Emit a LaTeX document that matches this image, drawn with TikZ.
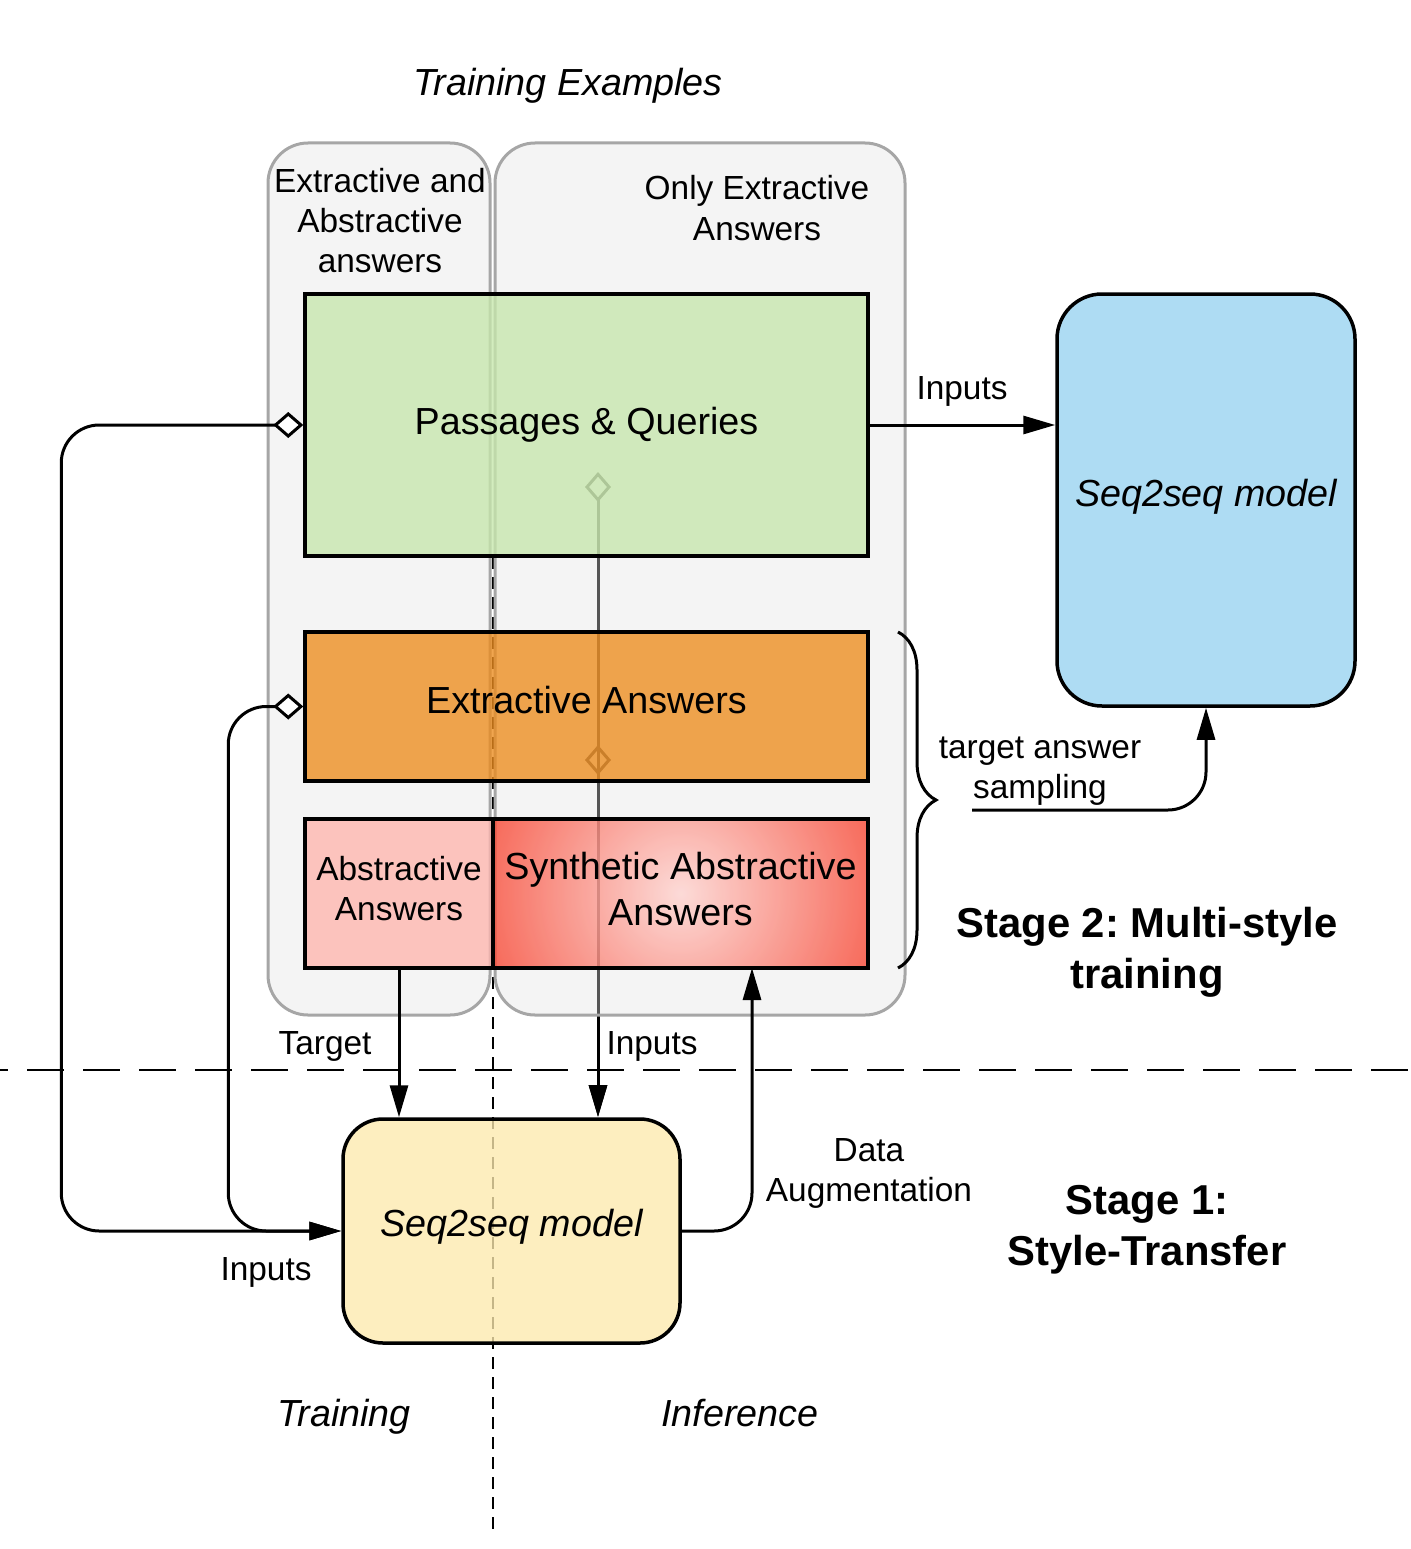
\documentclass[tikz,border=0pt]{standalone}
\usepackage{fontspec}
\setmainfont{Liberation Sans}
\usetikzlibrary{arrows.meta,decorations.pathreplacing}
\definecolor{contfill}{HTML}{E2E2E2}
\definecolor{contline}{HTML}{A6A6A6}
\definecolor{pqfill}{HTML}{C7E7AC}
\definecolor{eafill}{HTML}{EC8C1E}
\definecolor{abfill}{HTML}{FEB6AF}
\definecolor{synin}{HTML}{FED4D0}
\definecolor{synout}{HTML}{F94430}
\definecolor{bluefill}{HTML}{AEDCF3}
\definecolor{yelfill}{HTML}{FCE9AD}
\newcommand\fbig{\fontsize{37.7}{46}\selectfont}
\newcommand\fmed{\fontsize{33.4}{40.5}\selectfont}
\newcommand\fstage{\fontsize{41.8}{51}\selectfont\bfseries}
\newcommand\boxtxt[2]{\raisebox{#1}[\height][\depth]{\begin{tabular}{@{}c@{}}#2\end{tabular}}}
\frenchspacing
\tikzset{
  conn/.style={line width=3pt, black},
  tri/.style={-{Triangle[length=32pt,width=18pt]}},
  container/.style={draw=contline, line width=3pt, fill=contfill, fill opacity=0.38, rounded corners=40pt, inner sep=0pt},
  box/.style={draw=black, line width=3.5pt, fill opacity=0.78, text opacity=1, inner sep=0pt, align=center},
  lbl/.style={inner sep=0pt, align=center, font=\fmed},
  biglbl/.style={inner sep=0pt, align=center, font=\fbig},
}
\begin{document}
\begin{tikzpicture}[x=1pt,y=-1pt]
\useasboundingbox (0,0) rectangle (1410,1549);

% coordinates for connector free ends
\coordinate (pq) at (598,472);
\coordinate (ea) at (598,745);
\coordinate (vtop) at (493,557);
\coordinate (vbot) at (493,1530);
\coordinate (hl) at (0,1070);
\coordinate (hr) at (1410,1070);
\coordinate (da) at (752,968);
\coordinate (ts) at (972,810);
\coordinate (br1) at (898,632);
\coordinate (br2) at (898,968);

% vertical lines lying under the containers
\draw[conn, {Diamond[open,length=30pt,width=26pt]}-{Triangle[length=32pt,width=18pt]}] (pq) -- (598,1117);
\draw[conn, {Diamond[open,length=30pt,width=26pt]}-{Triangle[length=32pt,width=18pt]}] (ea) -- (598,1117);
\draw[black, line width=2.5pt, dash pattern=on 12pt off 8pt] (vtop) -- (vbot);

% containers
\node[container, minimum width=222pt, minimum height=872pt] (cL) at (379,579) {};
\node[container, minimum width=410pt, minimum height=872pt] (cR) at (700,579) {};

% synthetic box gradient
\begin{scope}
  \clip (493,819) rectangle (868,968);
  \shade[inner color=synin, outer color=synout, fill opacity=0.78] (680.5,893.5) circle[radius=200];
\end{scope}

% boxes
\node[box, fill=pqfill, minimum width=563pt, minimum height=262pt, font=\fbig] (green) at (586.5,425) {\boxtxt{0pt}{Passages \& Queries}};
\node[box, fill=eafill, minimum width=563pt, minimum height=149pt, font=\fbig] (orange) at (586.5,706.5) {\boxtxt{2pt}{Extractive Answers}};
\node[box, fill=abfill, minimum width=188pt, minimum height=149pt, font=\fmed] (abs) at (399,893.5) {\boxtxt{1pt}{Abstractive\\Answers}};
\node[box, minimum width=375pt, minimum height=149pt, font=\fbig] (synth) at (680.5,893.5) {\boxtxt{0pt}{Synthetic Abstractive\\Answers}};
\node[box, fill=bluefill, fill opacity=1, rounded corners=45pt, minimum width=298pt, minimum height=412pt, font=\fbig\itshape] (blue) at (1206,500) {\boxtxt{3pt}{Seq2seq model}};
\node[box, fill=yelfill, rounded corners=40pt, minimum width=337pt, minimum height=224pt, font=\fbig\itshape] (yellow) at (511.5,1231) {\boxtxt{4pt}{Seq2seq model}};

% horizontal separator
\draw[black, line width=2.5pt, dash pattern=on 37pt off 19pt, dash phase=29pt] (hl) -- (hr);

% connectors
\draw[conn, rounded corners=38pt, {Diamond[fill=white,length=30pt,width=26pt]}-{Triangle[length=32pt,width=18pt]}] (green.west) -- ++(-242,0) |- (yellow.west);
\draw[conn, rounded corners=38pt, {Diamond[fill=white,length=30pt,width=26pt]}-{Triangle[length=32pt,width=18pt]}] (orange.west) -- ++(-75,0) |- (yellow.west);
\draw[conn, tri] (abs.south) -- (abs.south |- yellow.north);
\draw[conn, tri] (green.east) -- (blue.west |- green.east);
\draw[conn, tri, rounded corners=38pt] (yellow.east) -| (da);
\draw[conn, tri, rounded corners=38pt] (ts) -| (blue.south);
\draw[conn, decorate, decoration={brace, amplitude=38pt, aspect=0.5}] (br1) -- (br2);

% labels
\node[biglbl, font=\fbig\itshape] (tex) at (568,86) {Training Examples};
\node[lbl, font=\fontsize{33.4}{40}\selectfont] (lEA) at (380,221) {Extractive and\\Abstractive\\answers};
\node[lbl, font=\fontsize{33.4}{41}\selectfont] (lOE) at (757,208) {Only Extractive\\Answers};
\node[lbl] (lin1) at (962,391) {Inputs};
\node[lbl, font=\fontsize{33.4}{40}\selectfont] (lts) at (1040,771) {target answer\\sampling};
\node[lbl, font=\fstage] (ls2) at (1147,952) {Stage 2: Multi-style\\training};
\node[lbl] (ltg) at (325,1046) {Target};
\node[lbl] (lin2) at (652,1046) {Inputs};
\node[lbl, font=\fontsize{33.4}{40}\selectfont] (lda) at (869,1173) {Data\\Augmentation};
\node[lbl, font=\fstage] (ls1) at (1147,1230) {Stage 1:\\Style-Transfer};
\node[lbl] (lin3) at (266,1272) {Inputs};
\node[biglbl, font=\fbig\itshape] (ltr) at (344,1417) {Training};
\node[biglbl, font=\fbig\itshape] (linf) at (740,1413) {Inference};
\end{tikzpicture}
\end{document}
